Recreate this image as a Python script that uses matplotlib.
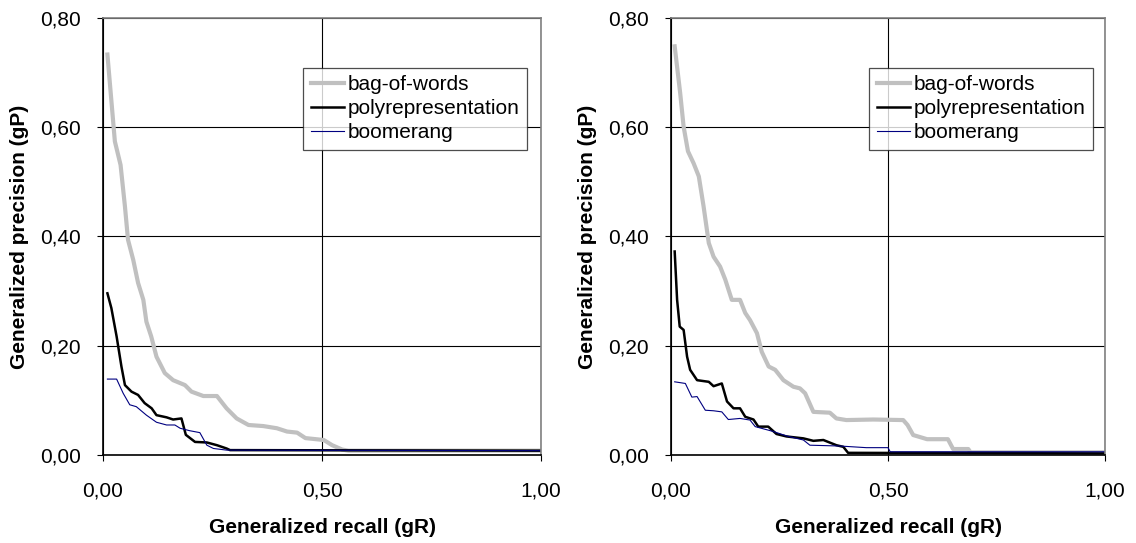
import matplotlib
matplotlib.use('Agg')
import matplotlib.pyplot as plt
from matplotlib.ticker import FuncFormatter

plt.rcParams['font.family'] = ['Liberation Sans', 'DejaVu Sans']

# Left panel
bow_x_l = [0.01, 0.027, 0.04, 0.05, 0.057, 0.069, 0.08, 0.092, 0.099, 0.11, 0.122, 0.141, 0.16, 0.187,
           0.202, 0.229, 0.26, 0.282, 0.305, 0.332, 0.366, 0.397, 0.42, 0.443, 0.462, 0.504, 0.523, 0.546, 0.56, 1.0]
bow_y_l = [0.733, 0.574, 0.531, 0.455, 0.394, 0.357, 0.315, 0.284, 0.244, 0.217, 0.18, 0.15, 0.137, 0.128,
           0.116, 0.108, 0.108, 0.0855, 0.067, 0.055, 0.053, 0.049, 0.043, 0.041, 0.031, 0.0275, 0.018, 0.01, 0.008, 0.008]

poly_x_l = [0.01, 0.019, 0.031, 0.042, 0.05, 0.065, 0.08, 0.095, 0.111, 0.122, 0.145, 0.16, 0.179, 0.189,
            0.21, 0.237, 0.26, 0.282, 0.29, 1.0]
poly_y_l = [0.296, 0.269, 0.217, 0.162, 0.128, 0.116, 0.11, 0.095, 0.0855, 0.073, 0.069, 0.065, 0.067, 0.037,
            0.024, 0.023, 0.018, 0.012, 0.009, 0.008]

boom_x_l = [0.01, 0.031, 0.046, 0.061, 0.076, 0.099, 0.122, 0.145, 0.164, 0.176, 0.198, 0.221, 0.237, 0.252,
            0.282, 1.0]
boom_y_l = [0.139, 0.139, 0.113, 0.092, 0.0885, 0.073, 0.06, 0.055, 0.055, 0.049, 0.0445, 0.041, 0.018, 0.012,
            0.009, 0.008]

# Right panel
bow_x_r = [0.0084, 0.021, 0.029, 0.039, 0.052, 0.064, 0.075, 0.087, 0.098, 0.113, 0.125, 0.14, 0.159, 0.171,
           0.182, 0.198, 0.209, 0.225, 0.24, 0.259, 0.282, 0.297, 0.309, 0.328, 0.366, 0.381, 0.404, 0.466,
           0.535, 0.545, 0.558, 0.59, 0.638, 0.65, 0.685, 0.69, 1.0]
bow_y_r = [0.748, 0.663, 0.601, 0.556, 0.534, 0.51, 0.455, 0.388, 0.363, 0.345, 0.321, 0.284, 0.284, 0.26,
           0.247, 0.223, 0.189, 0.162, 0.156, 0.137, 0.125, 0.122, 0.113, 0.079, 0.0775, 0.067, 0.064, 0.065,
           0.064, 0.055, 0.0366, 0.029, 0.029, 0.011, 0.011, 0.005, 0.005]

poly_x_r = [0.0084, 0.014, 0.02, 0.029, 0.037, 0.044, 0.06, 0.087, 0.098, 0.117, 0.129, 0.144, 0.159, 0.171,
            0.19, 0.201, 0.224, 0.243, 0.266, 0.305, 0.328, 0.351, 0.381, 0.397, 0.408, 1.0]
poly_y_r = [0.3725, 0.284, 0.235, 0.229, 0.18, 0.156, 0.137, 0.134, 0.126, 0.131, 0.098, 0.0855, 0.0855, 0.07,
            0.065, 0.052, 0.052, 0.0385, 0.034, 0.0305, 0.026, 0.0275, 0.018, 0.015, 0.004, 0.003]

boom_x_r = [0.0084, 0.033, 0.048, 0.06, 0.079, 0.098, 0.117, 0.132, 0.159, 0.182, 0.194, 0.236, 0.266, 0.305,
            0.32, 0.389, 0.45, 0.5, 0.505, 1.0]
boom_y_r = [0.134, 0.131, 0.106, 0.107, 0.082, 0.081, 0.079, 0.065, 0.067, 0.064, 0.052, 0.043, 0.035, 0.0275,
            0.018, 0.0165, 0.0135, 0.0135, 0.006, 0.006]

labels = ['bag-of-words', 'polyrepresentation', 'boomerang']

fig = plt.figure(figsize=(11.36, 5.43), dpi=100)
ax1 = fig.add_axes([0.0907, 0.162, 0.3856, 0.805])
ax2 = fig.add_axes([0.5907, 0.162, 0.382, 0.805])

comma = FuncFormatter(lambda v, p: f'{v:.2f}'.replace('.', ','))

panels = [
    (ax1, bow_x_l, bow_y_l, poly_x_l, poly_y_l, boom_x_l, boom_y_l),
    (ax2, bow_x_r, bow_y_r, poly_x_r, poly_y_r, boom_x_r, boom_y_r),
]

for ax, bx, by, px, py, mx, my in panels:
    ax.plot(bx, by, color='#c0c0c0', lw=3, label=labels[0], solid_joinstyle='round')
    ax.plot(px, py, color='black', lw=1.8, label=labels[1])
    ax.plot(mx, my, color='#000080', lw=0.8, label=labels[2])

    ax.set_xlim(0, 1)
    ax.set_ylim(0, 0.8)
    ax.set_xticks([0, 0.5, 1.0])
    ax.set_yticks([0, 0.2, 0.4, 0.6, 0.8])
    ax.xaxis.set_major_formatter(comma)
    ax.yaxis.set_major_formatter(comma)
    ax.grid(True, color='black', lw=0.8)
    ax.set_axisbelow(True)
    ax.tick_params(axis='x', direction='out', length=4, pad=15, labelsize=15)
    ax.tick_params(axis='y', direction='out', length=4, pad=12, labelsize=15)
    for s in ['left', 'bottom']:
        ax.spines[s].set_color('black')
        ax.spines[s].set_linewidth(1.2)
    for s in ['top', 'right']:
        ax.spines[s].set_color('#808080')
        ax.spines[s].set_linewidth(1.2)

    ax.set_xlabel('Generalized recall (gR)', fontsize=15, fontweight='bold', labelpad=13)
    ax.set_ylabel('Generalized precision (gP)', fontsize=15, fontweight='bold', labelpad=8)

    leg = ax.legend(loc='upper left', bbox_to_anchor=(0.457, 0.886), fontsize=15, frameon=True,
                    fancybox=False, edgecolor='#202020', handlelength=1.6, handletextpad=0.2,
                    borderpad=0.35, labelspacing=0.25, borderaxespad=0)
    leg.get_frame().set_linewidth(0.9)

fig.savefig('out.png', dpi=100)
